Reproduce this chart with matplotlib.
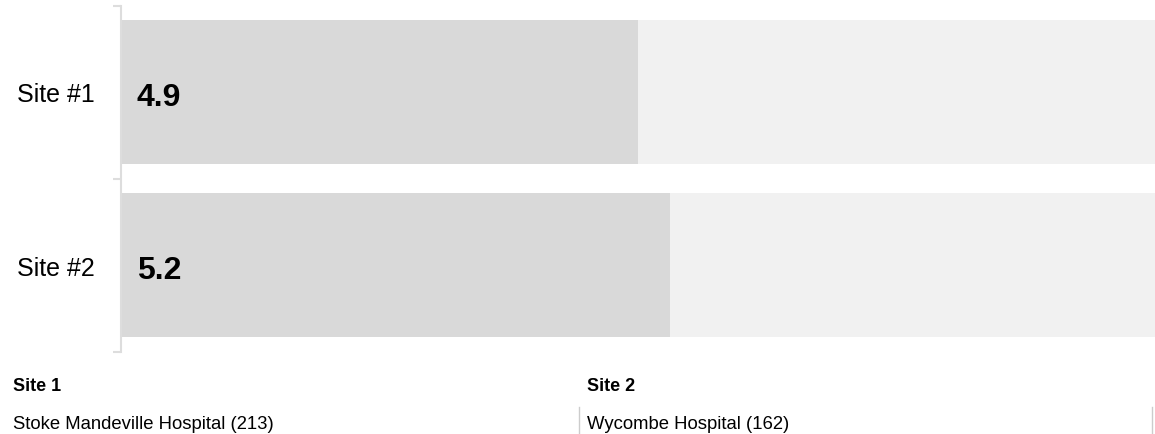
import matplotlib.pyplot as plt
from matplotlib.lines import Line2D

plt.rcParams['font.family'] = ['Liberation Sans', 'DejaVu Sans']

sites = ['Site #1', 'Site #2']
values = [4.9, 5.2]
scale_max = 10
footer_titles = ['Site 1', 'Site 2']
footer_names = ['Stoke Mandeville Hospital (213)', 'Wycombe Hospital (162)']

W, H = 1155, 435
fig = plt.figure(figsize=(W / 100, H / 100), dpi=100)
ax = fig.add_axes([121 / W, 1 - 352.5 / H, 1 - 121 / W, (352.5 - 6.5) / H])

ypos = list(range(len(sites)))
ax.barh(ypos, [scale_max] * len(sites), height=0.83, color='#f1f1f1', zorder=1)
ax.barh(ypos, values, height=0.83, color='#d9d9d9', zorder=2)

for y, v in zip(ypos, values):
    ax.annotate(f'{v:.1f}', xy=(0, y), xytext=(11.5, -3.5), textcoords='offset points',
                ha='left', va='center', fontsize=23, fontweight='bold', color='black', zorder=3)

ax.set_xlim(0, 9.8)
ax.set_ylim(len(sites) - 0.5, -0.5)
ax.set_xticks([])
ax.set_yticks(ypos)
ax.set_yticklabels(sites, fontsize=18)
ax.tick_params(axis='y', which='major', length=0, pad=19)
ax.set_yticks([i - 0.5 for i in range(len(sites) + 1)], minor=True)
ax.tick_params(axis='y', which='minor', length=6, width=1.5, color='#dddddd')
for s in ['top', 'right', 'bottom']:
    ax.spines[s].set_visible(False)
ax.spines['left'].set_color('#dddddd')
ax.spines['left'].set_linewidth(1.5)
ax.set_facecolor('none')

# footer
xs = [13, 587]
for x, t, n in zip(xs, footer_titles, footer_names):
    fig.text(x / W, 1 - 391 / H, t, fontsize=13, fontweight='bold', ha='left', va='baseline')
    fig.text(x / W, 1 - 429 / H, n, fontsize=13.3, ha='left', va='baseline')

for x in [578.5, 1151.5]:
    fig.add_artist(Line2D([x / W, x / W], [0, 1 - 408 / H], color='#cccccc', linewidth=1))

fig.savefig('out.png', dpi=100)
